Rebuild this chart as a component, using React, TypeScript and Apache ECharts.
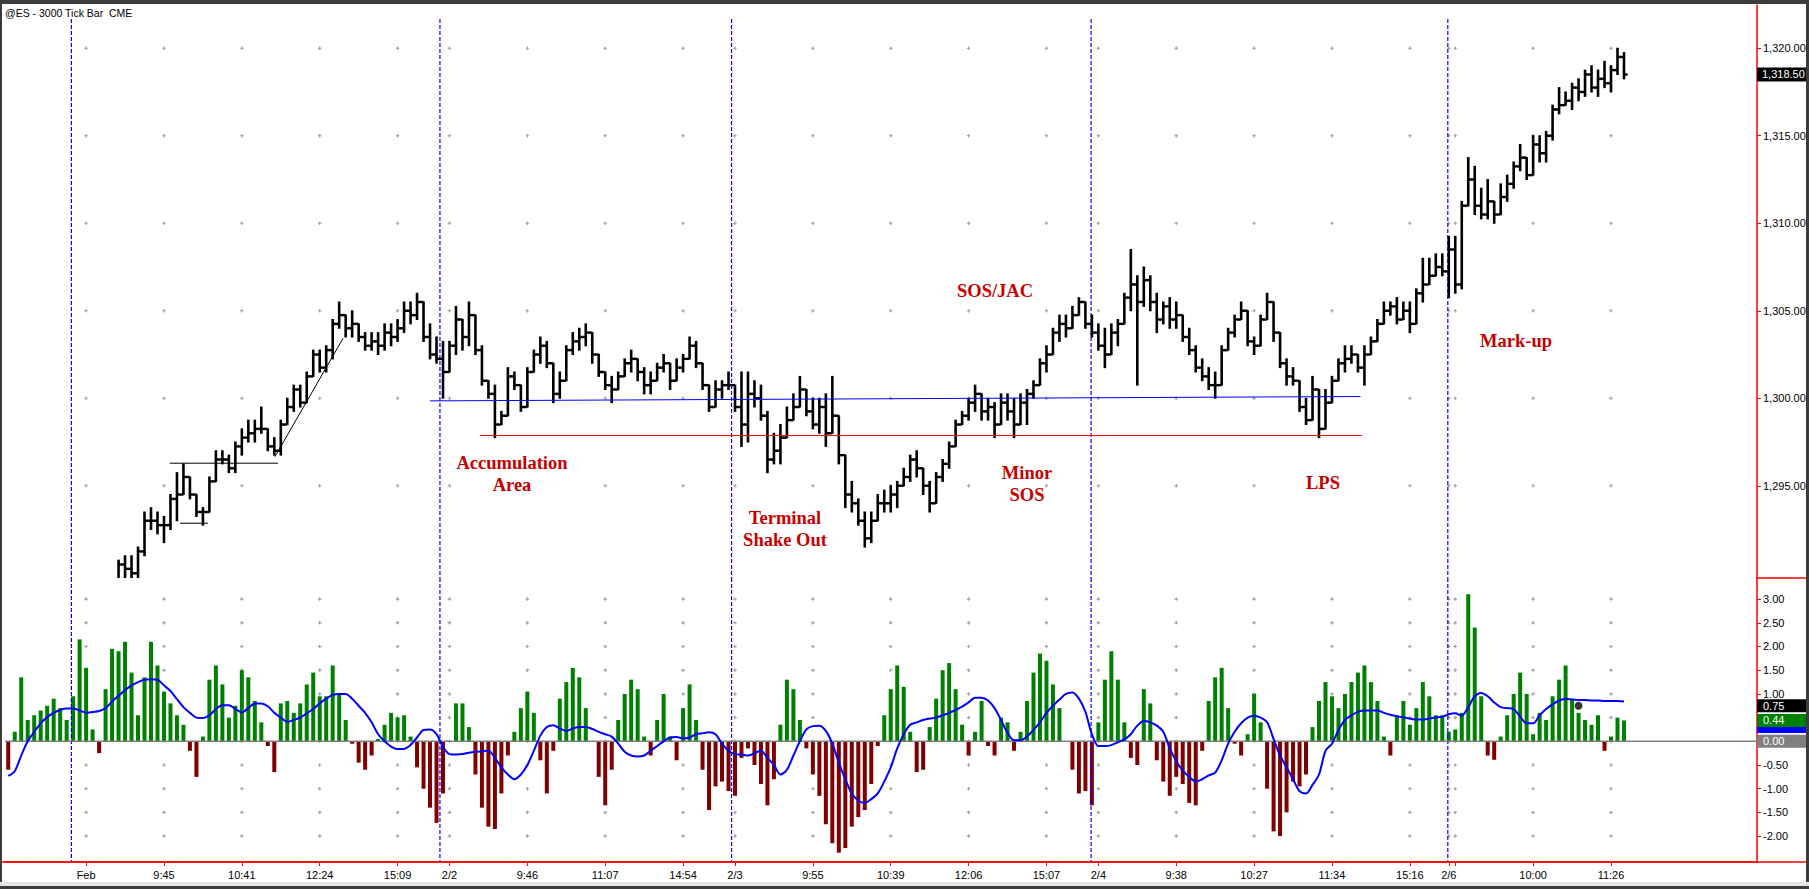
import { useEffect, useRef } from "react";
import * as echarts from "echarts";

// ---------- price bars (one bar per slot) ----------
const opens = [
  1286.5, 1286.75, 1286.5, 1287.25, 1287.5, 1287.75, 1288.0, 1288.25, 1288.5, 1288.5,
  1288.25, 1288.75, 1289.25, 1289.0, 1288.5, 1288.75, 1289.0, 1289.25, 1290.5, 1290.25,
  1290.0, 1291.25, 1293.0, 1293.0, 1292.75, 1292.75, 1294.25, 1294.5, 1295.5, 1294.5,
  1293.5, 1293.5, 1295.25, 1296.5, 1296.5, 1296.0, 1297.25, 1297.75, 1298.0, 1298.25,
  1298.25, 1297.25, 1297.0, 1298.5, 1299.5, 1300.5, 1299.75, 1301.25, 1302.5, 1301.75,
  1302.75, 1304.25, 1304.75, 1304.0, 1304.25, 1303.5, 1303.0, 1303.25, 1303.0, 1303.75,
  1303.5, 1304.0, 1305.0, 1304.75, 1305.5, 1303.5, 1302.5, 1302.25, 1301.5, 1303.0,
  1304.5, 1303.5, 1304.75, 1302.75, 1301.0, 1300.25, 1298.5, 1299.0, 1301.25, 1300.75,
  1299.5, 1301.5, 1302.5, 1303.0, 1302.0, 1300.25, 1301.0, 1302.75, 1303.25, 1303.5,
  1303.75, 1302.5, 1301.5, 1300.75, 1300.5, 1301.25, 1302.0, 1302.25, 1301.5, 1300.75,
  1301.0, 1301.75, 1302.0, 1301.0, 1301.75, 1302.25, 1303.0, 1302.0, 1300.75, 1299.5,
  1300.5, 1300.75, 1300.75, 1299.5, 1298.5, 1300.25, 1300.0, 1299.0, 1296.5, 1297.0,
  1297.75, 1298.75, 1299.5, 1300.5, 1299.25, 1298.5, 1299.5, 1298.0, 1299.0, 1296.75,
  1294.5, 1294.0, 1293.0, 1292.0, 1293.0, 1294.0, 1294.0, 1294.5, 1295.0, 1295.5,
  1296.5, 1296.0, 1295.0, 1294.0, 1295.5, 1296.25, 1297.25, 1298.5, 1299.0, 1299.75,
  1300.25, 1299.25, 1299.5, 1298.5, 1299.75, 1299.25, 1298.5, 1299.75, 1300.25, 1300.75,
  1302.0, 1302.5, 1303.75, 1304.25, 1304.0, 1304.75, 1305.5, 1304.25, 1303.75, 1303.0,
  1302.5, 1303.75, 1304.25, 1305.75, 1306.5, 1305.5, 1306.75, 1305.5, 1304.5, 1305.25,
  1304.5, 1304.75, 1303.5, 1302.75, 1301.75, 1301.25, 1300.75, 1300.75, 1302.75, 1303.75,
  1304.5, 1305.0, 1303.25, 1303.0, 1304.5, 1305.5, 1303.75, 1302.0, 1301.25, 1301.0,
  1299.5, 1298.75, 1300.5, 1298.25, 1299.75, 1301.0, 1302.0, 1302.25, 1302.5, 1301.75,
  1302.5, 1303.25, 1304.25, 1305.0, 1305.25, 1304.5, 1305.0, 1304.25, 1306.0, 1306.5,
  1307.0, 1307.5, 1307.25, 1308.5, 1306.5, 1311.0, 1312.5, 1311.0, 1310.5, 1311.25,
  1310.5, 1311.5, 1312.25, 1313.25, 1313.75, 1312.75, 1314.5, 1314.0, 1315.0, 1316.5,
  1316.75, 1317.0, 1317.75, 1317.5, 1318.5, 1317.75, 1318.25, 1318.0, 1318.75, 1319.5,
];
const highs = [
  1287.0, 1287.0, 1287.5, 1287.75, 1288.0, 1288.25, 1288.5, 1288.75, 1288.75, 1288.75,
  1289.0, 1289.5, 1289.5, 1289.25, 1289.0, 1289.25, 1289.5, 1290.75, 1291.0, 1291.0,
  1291.5, 1293.5, 1293.75, 1293.5, 1293.25, 1294.5, 1295.75, 1296.25, 1295.5, 1294.5,
  1293.75, 1295.5, 1297.0, 1297.0, 1296.75, 1297.5, 1298.25, 1298.75, 1298.75, 1299.5,
  1298.25, 1297.75, 1298.75, 1300.0, 1300.75, 1300.75, 1301.5, 1302.75, 1302.75, 1303.0,
  1304.5, 1305.5, 1304.75, 1305.0, 1304.25, 1303.75, 1303.75, 1303.75, 1304.25, 1304.25,
  1304.5, 1305.5, 1305.5, 1306.0, 1305.5, 1304.25, 1303.5, 1303.25, 1303.25, 1305.25,
  1304.5, 1305.5, 1304.75, 1303.0, 1301.0, 1300.75, 1299.25, 1301.75, 1301.5, 1300.75,
  1301.75, 1302.75, 1303.5, 1303.25, 1302.0, 1301.5, 1303.0, 1303.75, 1304.0, 1304.25,
  1303.75, 1302.5, 1301.5, 1301.25, 1301.5, 1302.25, 1302.75, 1302.25, 1301.75, 1301.5,
  1302.0, 1302.5, 1302.0, 1302.25, 1302.5, 1303.5, 1303.25, 1302.0, 1300.75, 1301.0,
  1301.0, 1301.5, 1300.75, 1301.5, 1301.5, 1301.0, 1300.75, 1299.25, 1298.0, 1298.5,
  1299.5, 1300.25, 1301.25, 1300.5, 1300.0, 1300.0, 1300.25, 1301.25, 1299.0, 1296.75,
  1295.25, 1294.25, 1293.5, 1293.5, 1294.5, 1294.75, 1295.0, 1295.25, 1296.0, 1296.75,
  1297.0, 1296.0, 1295.25, 1295.75, 1296.5, 1297.5, 1298.75, 1299.25, 1300.0, 1300.75,
  1300.25, 1300.0, 1299.75, 1300.25, 1300.25, 1300.0, 1300.25, 1300.5, 1301.0, 1302.25,
  1303.0, 1304.0, 1304.75, 1304.75, 1305.25, 1305.75, 1305.5, 1304.75, 1304.25, 1304.0,
  1304.25, 1304.5, 1306.0, 1308.5, 1307.0, 1307.5, 1307.0, 1306.0, 1305.5, 1305.75,
  1305.5, 1304.75, 1304.0, 1303.0, 1302.25, 1301.75, 1301.5, 1303.0, 1304.0, 1304.75,
  1305.5, 1305.0, 1303.5, 1304.75, 1306.0, 1305.5, 1303.75, 1302.25, 1301.75, 1301.0,
  1300.0, 1301.25, 1300.5, 1300.5, 1301.25, 1302.25, 1303.0, 1303.0, 1302.5, 1303.0,
  1303.5, 1304.5, 1305.5, 1305.5, 1305.75, 1305.5, 1305.5, 1306.25, 1308.0, 1308.0,
  1308.25, 1308.25, 1309.25, 1309.25, 1311.25, 1313.75, 1313.25, 1312.0, 1312.5, 1311.25,
  1312.25, 1312.75, 1313.5, 1314.5, 1313.75, 1315.0, 1315.0, 1315.25, 1316.75, 1317.75,
  1317.5, 1318.0, 1318.25, 1318.75, 1319.0, 1318.75, 1319.25, 1319.0, 1320.0, 1319.75,
];
const lows = [
  1286.25, 1286.0, 1286.5, 1287.0, 1287.25, 1287.5, 1287.75, 1288.0, 1288.0, 1288.0,
  1288.0, 1288.5, 1288.75, 1288.25, 1288.25, 1288.5, 1288.75, 1289.25, 1289.75, 1289.75,
  1289.75, 1291.0, 1292.5, 1292.25, 1291.75, 1292.5, 1293.0, 1294.5, 1294.25, 1293.25,
  1292.75, 1293.5, 1295.25, 1296.25, 1295.75, 1295.75, 1296.75, 1297.5, 1297.5, 1298.0,
  1297.0, 1296.75, 1296.75, 1298.5, 1299.25, 1299.5, 1299.75, 1301.25, 1301.5, 1301.5,
  1302.25, 1304.0, 1303.5, 1303.5, 1303.25, 1302.75, 1302.75, 1302.5, 1302.75, 1303.0,
  1303.25, 1303.75, 1304.25, 1304.5, 1303.25, 1302.25, 1302.0, 1300.0, 1301.5, 1302.5,
  1302.75, 1303.0, 1302.5, 1300.75, 1300.0, 1297.75, 1298.5, 1299.0, 1300.5, 1299.25,
  1299.5, 1301.5, 1302.0, 1301.75, 1299.75, 1300.0, 1301.0, 1302.5, 1302.75, 1303.0,
  1302.0, 1301.25, 1300.5, 1299.75, 1300.5, 1301.25, 1301.5, 1301.0, 1300.25, 1300.25,
  1301.0, 1301.5, 1300.5, 1301.0, 1301.5, 1302.25, 1301.75, 1300.5, 1299.25, 1299.5,
  1300.0, 1300.5, 1299.25, 1297.25, 1297.5, 1299.5, 1298.75, 1295.75, 1296.25, 1296.25,
  1297.75, 1298.75, 1299.5, 1299.0, 1298.25, 1298.0, 1297.25, 1298.0, 1296.25, 1293.75,
  1293.5, 1292.75, 1291.5, 1291.75, 1293.0, 1293.5, 1293.5, 1293.75, 1295.0, 1295.25,
  1295.5, 1294.5, 1293.5, 1294.0, 1295.25, 1296.0, 1297.25, 1298.5, 1298.75, 1299.25,
  1298.75, 1298.75, 1297.75, 1298.5, 1298.75, 1297.75, 1298.5, 1298.5, 1300.0, 1300.75,
  1301.5, 1302.5, 1303.25, 1303.5, 1304.0, 1304.75, 1304.0, 1303.5, 1302.75, 1301.75,
  1302.5, 1303.0, 1304.25, 1305.0, 1300.75, 1305.25, 1305.0, 1303.75, 1304.25, 1304.0,
  1304.0, 1303.25, 1302.5, 1301.5, 1301.0, 1300.5, 1300.0, 1300.75, 1302.75, 1303.5,
  1304.5, 1303.0, 1302.5, 1303.0, 1304.5, 1303.25, 1301.75, 1300.75, 1300.75, 1299.25,
  1298.5, 1298.75, 1297.75, 1298.25, 1299.75, 1301.0, 1301.5, 1302.0, 1301.5, 1300.75,
  1302.5, 1303.25, 1304.25, 1304.75, 1304.25, 1304.5, 1303.75, 1304.25, 1305.5, 1306.5,
  1307.0, 1307.0, 1305.75, 1306.0, 1306.25, 1311.0, 1310.5, 1310.25, 1310.25, 1310.0,
  1310.5, 1311.25, 1312.0, 1313.0, 1312.5, 1312.75, 1313.5, 1313.5, 1314.75, 1316.25,
  1316.75, 1316.5, 1317.0, 1317.25, 1317.5, 1317.25, 1317.75, 1317.5, 1318.5, 1318.25,
];
const closes = [
  1286.75, 1286.5, 1287.25, 1287.5, 1287.75, 1288.0, 1288.25, 1288.5, 1288.5, 1288.25,
  1288.75, 1289.25, 1289.0, 1288.5, 1288.75, 1289.0, 1289.25, 1290.5, 1290.25, 1290.0,
  1291.25, 1293.0, 1293.0, 1292.75, 1292.75, 1294.25, 1294.5, 1295.5, 1294.5, 1293.5,
  1293.5, 1295.25, 1296.5, 1296.5, 1296.0, 1297.25, 1297.75, 1298.0, 1298.25, 1298.25,
  1297.25, 1297.0, 1298.5, 1299.5, 1300.5, 1299.75, 1301.25, 1302.5, 1301.75, 1302.75,
  1304.25, 1304.75, 1304.0, 1304.25, 1303.5, 1303.0, 1303.25, 1303.0, 1303.75, 1303.5,
  1304.0, 1305.0, 1304.75, 1305.5, 1303.5, 1302.5, 1302.25, 1301.5, 1303.0, 1304.5,
  1303.5, 1304.75, 1302.75, 1301.0, 1300.25, 1298.5, 1299.0, 1301.25, 1300.75, 1299.5,
  1301.5, 1302.5, 1303.0, 1302.0, 1300.25, 1301.0, 1302.75, 1303.25, 1303.5, 1303.75,
  1302.5, 1301.5, 1300.75, 1300.5, 1301.25, 1302.0, 1302.25, 1301.5, 1300.75, 1301.0,
  1301.75, 1302.0, 1301.0, 1301.75, 1302.25, 1303.0, 1302.0, 1300.75, 1299.5, 1300.5,
  1300.75, 1300.75, 1299.5, 1298.5, 1300.25, 1300.0, 1299.0, 1296.5, 1297.0, 1297.75,
  1298.75, 1299.5, 1300.5, 1299.25, 1298.5, 1299.5, 1298.0, 1299.0, 1296.75, 1294.5,
  1294.0, 1293.0, 1292.0, 1293.0, 1294.0, 1294.0, 1294.5, 1295.0, 1295.5, 1296.5,
  1296.0, 1295.0, 1294.0, 1295.5, 1296.25, 1297.25, 1298.5, 1299.0, 1299.75, 1300.25,
  1299.25, 1299.5, 1298.5, 1299.75, 1299.25, 1298.5, 1299.75, 1300.25, 1300.75, 1302.0,
  1302.5, 1303.75, 1304.25, 1304.0, 1304.75, 1305.5, 1304.25, 1303.75, 1303.0, 1302.5,
  1303.75, 1304.25, 1305.75, 1306.5, 1305.5, 1306.75, 1305.5, 1304.5, 1305.25, 1304.5,
  1304.75, 1303.5, 1302.75, 1301.75, 1301.25, 1300.75, 1300.75, 1302.75, 1303.75, 1304.5,
  1305.0, 1303.25, 1303.0, 1304.5, 1305.5, 1303.75, 1302.0, 1301.25, 1301.0, 1299.5,
  1298.75, 1300.5, 1298.25, 1299.75, 1301.0, 1302.0, 1302.25, 1302.5, 1301.75, 1302.5,
  1303.25, 1304.25, 1305.0, 1305.25, 1304.5, 1305.0, 1304.25, 1306.0, 1306.5, 1307.0,
  1307.5, 1307.25, 1308.5, 1306.5, 1311.0, 1312.5, 1311.0, 1310.5, 1311.25, 1310.5,
  1311.5, 1312.25, 1313.25, 1313.75, 1312.75, 1314.5, 1314.0, 1315.0, 1316.5, 1316.75,
  1317.0, 1317.75, 1317.5, 1318.5, 1317.75, 1318.25, 1318.0, 1318.75, 1319.5, 1318.5,
];

// ---------- oscillator ----------
const histogram = [
  -0.6, 0.2, 1.35, 0.45, 0.55, 0.65, 0.75, 0.9, 0.7, 0.45,
  0.95, 2.15, 1.55, 0.25, -0.25, 1.1, 1.95, 1.9, 2.1, 1.45,
  0.55, 1.35, 2.1, 1.6, 1.05, 0.8, 0.55, 0.35, -0.2, -0.75,
  0.1, 1.3, 1.6, 1.2, 0.5, 0.75, 1.5, 1.35, 0.85, 0.4,
  -0.1, -0.65, 0.8, 0.85, 0.6, 0.8, 1.2, 1.45, 0.95, 0.95,
  1.6, 1.0, 0.45, -0.05, -0.45, -0.6, -0.3, 0.05, 0.35, 0.6,
  0.5, 0.55, 0.1, -0.55, -1.0, -1.4, -1.72, -1.1, 0.0, 0.8,
  0.8, 0.3, -0.7, -1.4, -1.8, -1.85, -1.1, -0.3, 0.2, 0.7,
  1.05, 0.6, -0.4, -1.1, -0.2, 0.9, 1.25, 1.55, 1.35, 0.7,
  0.0, -0.75, -1.35, -0.6, 0.45, 1.0, 1.3, 1.1, 0.1, -0.3,
  0.45, 1.0, 0.1, -0.4, 0.7, 1.2, 0.45, -0.6, -1.45, -0.95,
  -0.85, -1.05, -1.15, -0.35, -0.15, -0.5, -0.9, -1.35, -0.8, 0.35,
  1.3, 1.1, 0.45, -0.15, -0.7, -1.15, -1.75, -2.15, -2.35, -2.25,
  -1.8, -1.6, -1.45, -0.9, -0.1, 0.55, 1.1, 1.6, 1.15, 0.2,
  -0.65, -0.6, 0.3, 0.9, 1.5, 1.65, 1.1, 0.35, -0.3, 0.2,
  0.85, -0.1, -0.3, 0.5, 0.4, -0.2, 0.2, 0.85, 1.45, 1.85,
  1.7, 1.2, 0.7, 0.0, -0.6, -1.1, -1.05, -1.35, 0.4, 1.3,
  1.9, 1.3, 0.4, -0.35, -0.5, 1.1, 0.8, -0.4, -0.85, -1.15,
  -0.75, -0.9, -1.3, -1.35, -0.2, 0.85, 1.35, 1.55, 0.7, -0.05,
  -0.3, 0.15, 1.0, 0.4, -1.0, -1.9, -2.0, -1.5, -0.85, -0.95,
  -0.7, 0.3, 0.85, 1.25, 0.95, 0.7, 1.0, 1.25, 1.45, 1.6,
  1.25, 0.85, 0.1, -0.3, 0.55, 0.85, 0.35, 0.7, 1.25, 0.95,
  0.55, 0.55, 0.2, 0.25, 0.6, 3.1, 2.4, 0.95, -0.3, -0.39,
  0.1, 0.55, 1.0, 1.45, 1.0, 0.15, 0.6, 0.45, 0.95, 1.3,
  1.6, 0.9, 0.6, 0.45, 0.35, 0.55, -0.2, 0.1, 0.5, 0.44,
];
const signal = [
  -0.73, -0.63, -0.3, 0.0, 0.2, 0.38, 0.51, 0.6, 0.66, 0.69,
  0.69, 0.65, 0.6, 0.62, 0.64, 0.7, 0.84, 0.96, 1.08, 1.18,
  1.25, 1.3, 1.31, 1.3, 1.18, 1.06, 0.89, 0.72, 0.6, 0.5,
  0.49, 0.55, 0.68, 0.76, 0.76, 0.68, 0.61, 0.7, 0.8, 0.8,
  0.74, 0.6, 0.5, 0.41, 0.45, 0.5, 0.59, 0.68, 0.8, 0.9,
  0.98, 1.0, 1.0, 0.9, 0.75, 0.6, 0.4, 0.15, 0.0, -0.11,
  -0.16, -0.16, -0.08, 0.08, 0.24, 0.25, 0.15, -0.12, -0.27, -0.28,
  -0.27, -0.24, -0.22, -0.21, -0.2, -0.35, -0.55, -0.7, -0.8, -0.7,
  -0.5, -0.2, 0.12, 0.3, 0.34, 0.27, 0.22, 0.27, 0.3, 0.3,
  0.26, 0.2, 0.15, 0.1, -0.05, -0.22, -0.3, -0.32, -0.3, -0.2,
  -0.1, 0.0, 0.08, 0.09, 0.06, 0.08, 0.15, 0.17, 0.19, 0.15,
  -0.05, -0.2, -0.27, -0.28, -0.3, -0.25, -0.2, -0.35, -0.5, -0.7,
  -0.6, -0.3, 0.0, 0.25, 0.32, 0.33, 0.22, -0.05, -0.45, -0.8,
  -1.1, -1.25, -1.3, -1.22, -1.1, -0.85, -0.55, -0.15, 0.15, 0.35,
  0.4, 0.45, 0.48, 0.5, 0.55, 0.6, 0.66, 0.73, 0.82, 0.92,
  0.92, 0.86, 0.7, 0.45, 0.18, 0.02, 0.02, 0.1, 0.24, 0.4,
  0.6, 0.75, 0.88, 1.0, 1.03, 0.9, 0.62, 0.15, -0.1, -0.1,
  -0.08, -0.02, 0.04, 0.15, 0.33, 0.43, 0.4, 0.33, 0.2, -0.15,
  -0.42, -0.62, -0.75, -0.85, -0.8, -0.72, -0.66, -0.4, -0.05, 0.2,
  0.38, 0.5, 0.54, 0.5, 0.4, 0.05, -0.3, -0.55, -0.8, -1.05,
  -1.1, -0.92, -0.7, -0.2, -0.05, 0.24, 0.45, 0.55, 0.62, 0.65,
  0.65, 0.65, 0.6, 0.56, 0.53, 0.5, 0.48, 0.46, 0.46, 0.48,
  0.5, 0.52, 0.57, 0.59, 0.54, 0.72, 0.95, 1.02, 0.95, 0.82,
  0.72, 0.7, 0.68, 0.52, 0.38, 0.38, 0.55, 0.68, 0.78, 0.86,
  0.9, 0.88, 0.87, 0.87, 0.86, 0.86, 0.85, 0.85, 0.85, 0.84,
];
const blackMarker = [242, 0.75];

// ---------- axes / annotations ----------
const SLOTS = 270;
const PRICE_MIN = 1289.73;
const PRICE_MAX = 1322.47;
const OSC_MIN = -2.546;
const OSC_MAX = 3.445;
const tickIdx = [12, 24, 36, 48, 60, 68, 80, 92, 104, 112, 124, 136, 148, 160, 168, 180, 192, 204, 216, 222, 235, 247];
const tickText = ["Feb", "9:45", "10:41", "12:24", "15:09", "2/2", "9:46", "11:07", "14:54", "2/3", "9:55", "10:39", "12:06", "15:07", "2/4", "9:38", "10:27", "11:34", "15:16", "2/6", "10:00", "11:26"];
const extraTickIdx = [223];
const priceTicks = [1295, 1300, 1305, 1310, 1315, 1320];
const oscTicks = [-2, -1.5, -1, -0.5, 0, 0.5, 1, 1.5, 2, 2.5, 3];
const oscLabelValues = [-2, -1.5, -1, -0.5, 1, 1.5, 2, 2.5, 3];
const dayBreaks = [9.73, 66.53, 111.47, 166.88, 221.85];
const dashTop = 1321.67;
const resistanceLine = [[65.0, 1299.85], [208.4, 1300.1]];
const supportLine = [[72.7, 1297.87], [208.6, 1297.87]];
const blackLines = [
  [[24.9, 1296.29], [41.6, 1296.29]],
  [[26.5, 1292.86], [30.8, 1292.86]],
  [[41.1, 1296.66], [51.6, 1303.43]],
];
const annotations = [
  { text: "Accumulation\nArea", x: 512, y: 474 },
  { text: "Terminal\nShake Out", x: 785, y: 529 },
  { text: "SOS/JAC", x: 995, y: 291 },
  { text: "Minor\nSOS", x: 1027, y: 484 },
  { text: "LPS", x: 1323, y: 483 },
  { text: "Mark-up", x: 1516, y: 341 },
];
const oscBoxes = [
  { v: 0, text: "0.00", fill: "#808080" },
  { v: 0.31, text: "", fill: "#0000ff" },
  { v: 0.44, text: "0.44", fill: "#008000" },
  { v: 0.75, text: "0.75", fill: "#000000" },
];

const FONT = '"Liberation Sans", Arial, sans-serif';
const labelAt: string[] = Array.from({ length: SLOTS }, (_, i) => {
  const k = tickIdx.indexOf(i);
  return k >= 0 ? tickText[k] : "";
});
const tickSet = new Set([...tickIdx, ...extraTickIdx]);
const cats = Array.from({ length: SLOTS }, (_, i) => String(i));

const fmtPrice = (v: number) =>
  priceTicks.includes(v)
    ? v.toLocaleString("en-US", { minimumFractionDigits: 2, maximumFractionDigits: 2 })
    : "";

function renderBar(params: any, api: any) {
  const i = api.value(0);
  const cs = params.coordSys;
  const top = cs.y;
  const bot = cs.y + cs.height;
  const ph = api.coord([i, api.value(2)]);
  const pl = api.coord([i, api.value(3)]);
  const yo = api.coord([i, api.value(1)])[1];
  const yc = api.coord([i, api.value(4)])[1];
  const x = ph[0];
  const half = api.size([1, 0])[0] / 2 + 0.4;
  if (ph[1] >= bot || pl[1] <= top) return null;
  const y1 = Math.max(top, ph[1] - 0.5);
  const y2 = Math.min(bot, pl[1] + 0.5);
  const children: any[] = [
    { type: "line", shape: { x1: x, y1, x2: x, y2 }, style: { stroke: "#000", lineWidth: 2.6 } },
  ];
  if (yo >= top && yo <= bot)
    children.push({ type: "line", shape: { x1: x - half, y1: yo, x2: x, y2: yo }, style: { stroke: "#000", lineWidth: 2.4 } });
  if (yc >= top && yc <= bot)
    children.push({ type: "line", shape: { x1: x, y1: yc, x2: x + half, y2: yc }, style: { stroke: "#000", lineWidth: 2.4 } });
  return { type: "group", children };
}

function buildOption(): any {
  const dotX = [...tickIdx, ...extraTickIdx];
  const priceDots: number[][] = [];
  dotX.forEach((x) => priceTicks.forEach((y) => priceDots.push([x, y])));
  const oscDots: number[][] = [];
  dotX.forEach((x) => oscTicks.forEach((y) => oscDots.push([x, y])));

  const plainLine = (xAxisIndex: number, yAxisIndex: number, data: number[][], color: string, width: number, type: any = "solid", z = 3) => ({
    type: "line",
    xAxisIndex,
    yAxisIndex,
    data,
    symbol: "none",
    silent: true,
    z,
    lineStyle: { color, width, type },
  });

  const dotSymbol = "path://M1 0H2V1H3V2H2V3H1V2H0V1H1Z";

  const series: any[] = [
    { type: "scatter", xAxisIndex: 0, yAxisIndex: 0, data: priceDots, symbol: dotSymbol, symbolSize: 3.5, itemStyle: { color: "#8a8a8a" }, silent: true, z: 1 },
    { type: "scatter", xAxisIndex: 1, yAxisIndex: 1, data: oscDots, symbol: dotSymbol, symbolSize: 3.5, itemStyle: { color: "#8a8a8a" }, silent: true, z: 1 },
    ...dayBreaks.map((d) => plainLine(2, 0, [[d, dashTop], [d, PRICE_MIN]], "#0000ff", 1.2, [4, 2], 2)),
    ...dayBreaks.map((d) => plainLine(3, 1, [[d, OSC_MAX], [d, OSC_MIN]], "#0000ff", 1.2, [4, 2], 2)),
    {
      type: "bar",
      xAxisIndex: 1,
      yAxisIndex: 1,
      data: histogram,
      barWidth: 4,
      silent: true,
      z: 2,
      itemStyle: { color: (p: any) => (p.value >= 0 ? "#008000" : "#800000") },
    },
    plainLine(3, 1, [[-0.5, 0], [SLOTS - 0.5, 0]], "#808080", 1.5, "solid", 3),
    {
      type: "line",
      xAxisIndex: 1,
      yAxisIndex: 1,
      data: signal,
      symbol: "none",
      smooth: 0.3,
      silent: true,
      z: 4,
      lineStyle: { color: "#0000ff", width: 2 },
    },
    { type: "scatter", xAxisIndex: 1, yAxisIndex: 1, data: [blackMarker], symbol: "circle", symbolSize: 8, itemStyle: { color: "#000" }, silent: true, z: 5 },
    {
      type: "custom",
      xAxisIndex: 0,
      yAxisIndex: 0,
      renderItem: renderBar,
      encode: { x: 0, y: [1, 2, 3, 4] },
      data: closes.map((c, i) => [i, opens[i], highs[i], lows[i], c]),
      silent: true,
      z: 3,
    },
    plainLine(2, 0, resistanceLine, "#0000ff", 1, "solid", 4),
    plainLine(2, 0, supportLine, "#ff0000", 1, "solid", 4),
    ...blackLines.map((l) => plainLine(2, 0, l, "#000000", 1, "solid", 4)),
  ];

  return {
    animation: false,
    backgroundColor: "#ffffff",
    grid: [
      { left: 5, right: 52, top: 5, height: 573 },
      { left: 5, right: 52, top: 578, height: 284 },
    ],
    xAxis: [
      { type: "category", gridIndex: 0, data: cats, boundaryGap: true, show: false, axisLine: { onZero: false } },
      {
        type: "category",
        gridIndex: 1,
        data: cats,
        boundaryGap: true,
        position: "bottom",
        axisLine: { show: true, onZero: false, lineStyle: { color: "#ff0000", width: 1.5 } },
        axisTick: {
          show: true,
          alignWithLabel: true,
          interval: (i: number) => tickSet.has(i),
          length: 4,
          lineStyle: { color: "#ff0000" },
        },
        axisLabel: {
          interval: (i: number) => labelAt[i] !== "",
          formatter: (_v: string, i: number) => labelAt[i],
          color: "#000",
          fontSize: 11,
          fontFamily: FONT,
          margin: 7,
        },
        splitLine: { show: false },
      },
      { type: "value", gridIndex: 0, min: -0.5, max: SLOTS - 0.5, show: false, axisLine: { onZero: false } },
      { type: "value", gridIndex: 1, min: -0.5, max: SLOTS - 0.5, show: false, axisLine: { onZero: false } },
    ],
    yAxis: [
      {
        type: "value",
        gridIndex: 0,
        position: "right",
        min: PRICE_MIN,
        max: PRICE_MAX,
        splitNumber: 7,
        axisLine: { show: true, onZero: false, lineStyle: { color: "#ff0000", width: 1.5 } },
        axisTick: { show: true, inside: false, length: 4, lineStyle: { color: "#ff0000" }, customValues: priceTicks },
        axisLabel: { customValues: priceTicks, formatter: fmtPrice, color: "#000", fontSize: 11, fontFamily: FONT, margin: 6 },
        splitLine: { show: false },
      },
      {
        type: "value",
        gridIndex: 1,
        position: "right",
        min: OSC_MIN,
        max: OSC_MAX,
        splitNumber: 12,
        axisLine: { show: true, onZero: false, lineStyle: { color: "#ff0000", width: 1.5 } },
        axisTick: { show: true, inside: false, length: 4, lineStyle: { color: "#ff0000" }, customValues: oscTicks },
        axisLabel: {
          customValues: oscLabelValues,
          formatter: (v: number) => (oscLabelValues.includes(v) ? v.toFixed(2) : ""),
          color: "#000",
          fontSize: 11,
          fontFamily: FONT,
          margin: 6,
        },
        splitLine: { show: false },
      },
    ],
    series,
  };
}

export default function App() {
  const ref = useRef<HTMLDivElement>(null);
  useEffect(() => {
    const chart = echarts.init(ref.current as HTMLDivElement, undefined, { renderer: "svg" });
    chart.setOption(buildOption());

    const py = (axis: number, v: number) => chart.convertToPixel({ yAxisIndex: axis } as any, v) as unknown as number;
    const axisX = 1757;
    const boxW = 49;
    const boxH = 13;

    const elements: any[] = [
      // window frame
      { type: "rect", shape: { x: 0, y: 0, width: 1809, height: 4 }, style: { fill: "#3c3c3c" }, silent: true, z: 50 },
      { type: "rect", shape: { x: 0, y: 0, width: 2, height: 889 }, style: { fill: "#3c3c3c" }, silent: true, z: 50 },
      { type: "rect", shape: { x: 1806, y: 0, width: 3, height: 889 }, style: { fill: "#3c3c3c" }, silent: true, z: 50 },
      { type: "rect", shape: { x: 0, y: 882, width: 1809, height: 4 }, style: { fill: "#e6e6e6" }, silent: true, z: 50 },
      { type: "rect", shape: { x: 0, y: 886, width: 1809, height: 3 }, style: { fill: "#3c3c3c" }, silent: true, z: 50 },
      // red frame lines
      { type: "line", shape: { x1: 2, y1: 862, x2: 1806, y2: 862 }, style: { stroke: "#ff0000", lineWidth: 1.5 }, silent: true, z: 40 },
      { type: "line", shape: { x1: axisX, y1: 578, x2: 1806, y2: 578 }, style: { stroke: "#ff0000", lineWidth: 1.5 }, silent: true, z: 40 },
      // title
      {
        type: "text",
        style: { text: "@ES - 3000 Tick Bar  CME", x: 5, y: 13, fill: "#000", font: `10.5px ${FONT}`, verticalAlign: "middle" },
        silent: true,
        z: 40,
      },
      // annotations
      ...annotations.map((a) => ({
        type: "text",
        style: {
          text: a.text,
          x: a.x,
          y: a.y,
          fill: "#c80000",
          font: 'bold 18.5px "Liberation Serif", "Times New Roman", serif',
          align: "center",
          verticalAlign: "middle",
          lineHeight: 22,
        },
        silent: true,
        z: 40,
      })),
    ];

    // last price box
    const lastClose = closes[closes.length - 1];
    const yp = py(0, lastClose);
    elements.push(
      { type: "rect", shape: { x: axisX, y: yp - 7, width: boxW, height: 14 }, style: { fill: "#000" }, silent: true, z: 45 },
      {
        type: "text",
        style: {
          text: lastClose.toLocaleString("en-US", { minimumFractionDigits: 2 }),
          x: axisX + 5,
          y: yp,
          fill: "#fff",
          font: `11px ${FONT}`,
          verticalAlign: "middle",
        },
        silent: true,
        z: 46,
      }
    );
    oscBoxes.forEach((b, k) => {
      const y = py(1, b.v);
      elements.push({ type: "rect", shape: { x: axisX, y: y - boxH / 2, width: boxW, height: boxH }, style: { fill: b.fill }, silent: true, z: 45 + k * 2 });
      if (b.text)
        elements.push({
          type: "text",
          style: { text: b.text, x: axisX + 6, y, fill: "#fff", font: `11px ${FONT}`, verticalAlign: "middle" },
          silent: true,
          z: 46 + k * 2,
        });
    });

    chart.setOption({ graphic: elements });
    return () => chart.dispose();
  }, []);

  return (
    <div
      ref={ref}
      style={{ position: "fixed", left: 0, top: 0, width: 1809, height: 889, background: "#ffffff" }}
    />
  );
}
